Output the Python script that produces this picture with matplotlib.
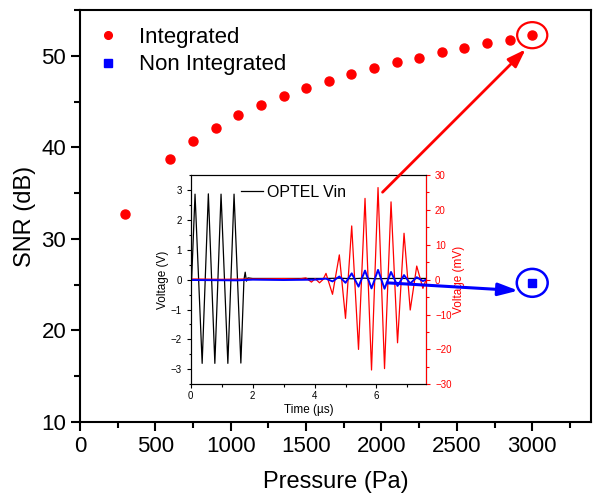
import matplotlib

matplotlib.use("Agg")
import matplotlib.pyplot as plt
from matplotlib.patches import Ellipse
from matplotlib.ticker import MultipleLocator

plt.rcParams["font.family"] = ["Liberation Sans", "DejaVu Sans"]

# main chart: SNR vs pressure
pressure = [300, 600, 750, 900, 1050, 1200, 1350, 1500, 1650, 1800,
            1950, 2100, 2250, 2400, 2550, 2700, 2850, 3000]
snr_integrated = [32.7, 38.7, 40.7, 42.1, 43.5, 44.6, 45.6, 46.5, 47.2, 48.0,
                  48.7, 49.3, 49.8, 50.4, 50.9, 51.4, 51.75, 52.25]
pressure_non = [3000]
snr_non = [25.2]

# inset: waveforms (peaks / troughs)
t_vin = [0, 0.03, 0.14, 0.37, 0.57, 0.78, 0.98, 1.20, 1.40, 1.62, 1.72, 1.76,
         1.80, 1.85, 2.0, 4.4, 4.8, 5.2, 5.6, 6.0, 6.4, 7.6]
v_vin = [0, 0, 2.86, -2.80, 2.87, -2.80, 2.86, -2.80, 2.86, -2.79, 0.0, 0.25,
         -0.05, 0.06, 0.04, 0.04, 0.05, 0.03, 0.05, 0.03, 0.04, 0.04]

t_int = [0, 1.0, 2.0, 3.0, 3.5, 3.72, 3.90, 4.02, 4.16, 4.27, 4.37, 4.58, 4.80,
         5.00, 5.20, 5.42, 5.63, 5.84, 6.05, 6.26, 6.47, 6.68, 6.89, 7.09,
         7.30, 7.50, 7.6]
mv_int = [0.2, 0.1, 0.2, 0.3, 0.2, 0.5, -0.7, 0.3, -0.9, 0.0, 1.8, -4.2, 7.1,
          -11.1, 15.4, -20.0, 23.3, -25.9, 26.4, -25.5, 22.3, -18.1, 13.3, -8.7,
          3.9, -2.5, 0.0]

t_non = [0, 1.5, 2.0, 3.0, 4.0, 4.37, 4.58, 4.80, 5.00, 5.20, 5.42, 5.63, 5.84,
         6.05, 6.26, 6.47, 6.68, 6.89, 7.09, 7.30, 7.50, 7.6]
mv_non = [-0.1, -0.2, 0.0, -0.1, 0.0, 0.3, -0.5, 0.9, -0.9, 1.8, -2.0, 2.6, -2.5,
          2.8, -2.6, 2.2, -1.8, 1.3, -1.1, 0.7, -0.4, 0.0]

fig = plt.figure(figsize=(5.95, 4.93), dpi=100)
ax = fig.add_axes([0.1345, 0.144, 0.8588, 0.8357])

ax.plot(pressure, snr_integrated, "o", color="red", markersize=6.5,
        label="Integrated")
ax.plot(pressure_non, snr_non, "s", color="blue", markersize=6,
        label="Non Integrated")

ax.add_patch(Ellipse((pressure[-1], snr_integrated[-1]), 200, 2.85,
                     fill=False, edgecolor="red", linewidth=1.6))
ax.add_patch(Ellipse((pressure_non[0], snr_non[0]), 205, 3.05,
                     fill=False, edgecolor="blue", linewidth=1.8))

ax.set_xlim(0, 3390)
ax.set_ylim(10, 55)
ax.xaxis.set_major_locator(MultipleLocator(500))
ax.xaxis.set_minor_locator(MultipleLocator(250))
ax.yaxis.set_major_locator(MultipleLocator(10))
ax.yaxis.set_minor_locator(MultipleLocator(5))
ax.tick_params(which="both", direction="out", width=1.5, labelsize=16)
ax.tick_params(which="major", length=6.5)
ax.tick_params(which="minor", length=4)
for s in ax.spines.values():
    s.set_linewidth(1.5)
ax.set_xlabel("Pressure (Pa)", fontsize=17, labelpad=10)
ax.set_ylabel("SNR (dB)", fontsize=17, labelpad=4)
ax.legend(loc="upper left", bbox_to_anchor=(0.0, 1.0), frameon=False,
          fontsize=16, handlelength=1.0, handletextpad=0.9, labelspacing=0.3,
          markerscale=0.85, borderaxespad=0.35)

# inset
ax_in = fig.add_axes([0.3205, 0.2205, 0.3955, 0.4245])
ax_in.plot(t_vin, v_vin, color="black", linewidth=0.9, label="OPTEL Vin")
ax_in.set_xlim(0, 7.6)
ax_in.set_ylim(-3.5, 3.5)
ax_in.xaxis.set_major_locator(MultipleLocator(2))
ax_in.xaxis.set_minor_locator(MultipleLocator(1))
ax_in.yaxis.set_major_locator(MultipleLocator(1))
ax_in.yaxis.set_minor_locator(MultipleLocator(0.5))
ax_in.tick_params(which="both", direction="out", labelsize=7, width=0.8)
ax_in.tick_params(which="major", length=3)
ax_in.tick_params(which="minor", length=1.8)
ax_in.tick_params(axis="x", pad=2)
ax_in.set_xlabel("Time (\u00b5s)", fontsize=8.5, labelpad=2)
ax_in.set_ylabel("Voltage (V)", fontsize=8.5, labelpad=1)
ax_in.legend(loc="upper left", bbox_to_anchor=(0.171, 1.0), frameon=False,
             fontsize=11.5, handlelength=1.4, handletextpad=0.25,
             borderaxespad=0.2)

ax_r = ax_in.twinx()
ax_r.plot(t_int, mv_int, color="red", linewidth=0.9)
ax_r.plot(t_non, mv_non, color="blue", linewidth=1.4)
ax_r.set_ylim(-30, 30)
ax_r.yaxis.set_major_locator(MultipleLocator(10))
ax_r.yaxis.set_minor_locator(MultipleLocator(5))
ax_r.tick_params(which="both", direction="out", labelsize=7, width=0.8,
                 colors="red")
ax_r.tick_params(which="major", length=3)
ax_r.tick_params(which="minor", length=1.8)
ax_r.set_ylabel("Voltage (mV)", fontsize=8.5, color="red", labelpad=1)
for a in (ax_in, ax_r):
    for s in a.spines.values():
        s.set_linewidth(0.8)
ax_r.spines["right"].set_color("red")

# arrows from the inset to the circled points (drawn on top of the inset)
ax_r.annotate("", xy=(2956, 50.7), xycoords=ax.transData,
              xytext=(2007, 35.1), textcoords=ax.transData,
              arrowprops=dict(arrowstyle="-|>,head_length=1.1,head_width=0.38",
                              mutation_scale=10, color="red", lw=2,
                              shrinkA=0, shrinkB=0))
ax_r.annotate("", xy=(2907, 24.35), xycoords=ax.transData,
              xytext=(2038, 25.2), textcoords=ax.transData,
              arrowprops=dict(arrowstyle="-|>,head_length=1.2,head_width=0.38",
                              mutation_scale=10, color="blue", lw=2.2,
                              shrinkA=0, shrinkB=0))

fig.savefig("out.png", dpi=100)
